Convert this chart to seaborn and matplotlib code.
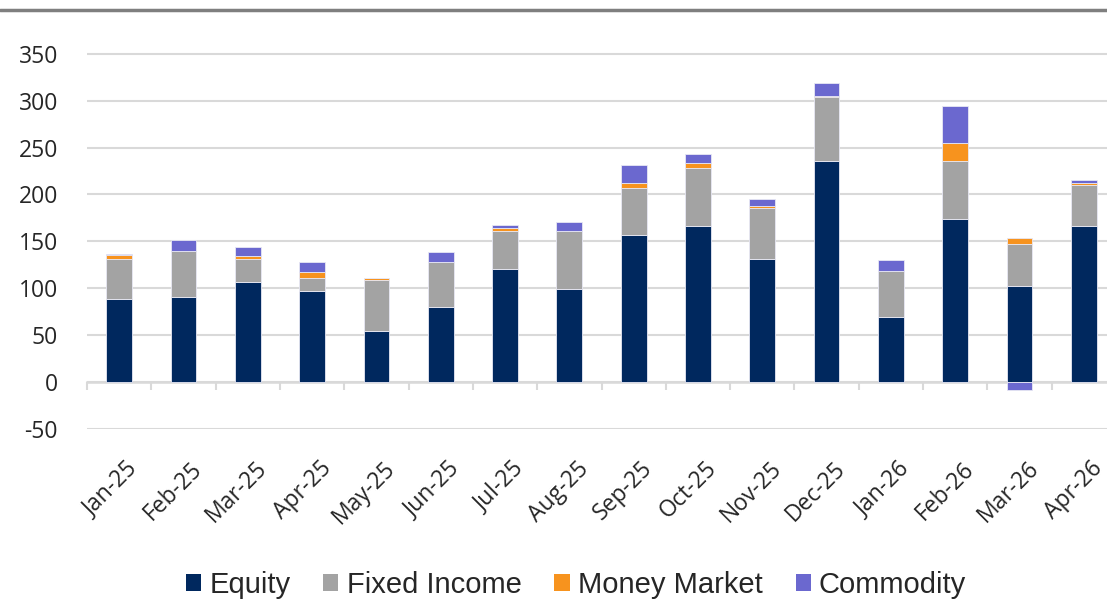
import numpy as np
import pandas as pd
import matplotlib
matplotlib.use("Agg")
import matplotlib.pyplot as plt
import matplotlib.transforms as mtransforms
from matplotlib.patches import Patch
from matplotlib.lines import Line2D
import seaborn as sns

# Monthly flows by asset class
months = ['Jan-25', 'Feb-25', 'Mar-25', 'Apr-25', 'May-25', 'Jun-25', 'Jul-25', 'Aug-25',
          'Sep-25', 'Oct-25', 'Nov-25', 'Dec-25', 'Jan-26', 'Feb-26', 'Mar-26', 'Apr-26']
equity = [88, 90, 106, 97, 54, 80, 120, 99, 157, 166, 131, 236, 69, 174, 102, 166]
fixed_income = [43, 50, 25, 14, 55, 48, 41, 62, 50, 62, 54, 68, 49, 62, 45, 44]
money_market = [4, 0, 3.5, 6.5, 1.5, 0, 3.5, 0, 5, 5, 3, 1.5, 0, 19, 6.5, 2]
commodity = [1.5, 11, 9, 10.5, 0, 10, 3, 9, 19, 10, 7, 13.5, 12, 39.5, -9, 3.5]

series = [('Equity', equity, '#00285E'),
          ('Fixed Income', fixed_income, '#A3A3A3'),
          ('Money Market', money_market, '#F7931E'),
          ('Commodity', commodity, '#6B68CF')]

y_ticks = [-50, 0, 50, 100, 150, 200, 250, 300, 350]

sns.set_theme(style='white')
plt.rcParams['font.family'] = ['Open Sans', 'DejaVu Sans']

fig = plt.figure(figsize=(11.07, 6), dpi=100)
ax = fig.add_axes([87 / 1107, 0.2858, (1116 - 87) / 1107, 0.7025])

# stack positives upward and negatives downward, like Excel does
pos = np.zeros(len(months))
neg = np.zeros(len(months))
for name, vals, color in series:
    vals = np.array(vals, dtype=float)
    bottom = np.where(vals >= 0, pos, neg)
    sns.barplot(x=months, y=vals, bottom=bottom, color=color, width=0.4,
                errorbar=None, edgecolor='#E8E8F4', linewidth=0.6, ax=ax,
                saturation=1, order=months)
    pos = pos + np.where(vals >= 0, vals, 0)
    neg = neg + np.where(vals < 0, vals, 0)

ax.set_ylim(-50, 400)
ax.set_xlim(-0.5, len(months) - 0.5)
ax.set_yticks(y_ticks)
ax.set_yticklabels([str(t) for t in y_ticks], fontsize=16.5, color='#262626')
ax.yaxis.grid(True, color='#D9D9D9', linewidth=1.5)
ax.xaxis.grid(False)
ax.set_axisbelow(True)
for s in ax.spines.values():
    s.set_visible(False)
ax.tick_params(axis='y', length=0, pad=21)
ax.tick_params(axis='x', length=0, pad=24)
ax.set_xticks(range(len(months)))
ax.set_xticklabels(months, rotation=45, ha='right', rotation_mode='anchor',
                   fontsize=16.5, color='#262626')
shift = mtransforms.ScaledTranslation(7 / 100, 5 / 100, fig.dpi_scale_trans)
for lbl in ax.get_xticklabels():
    lbl.set_transform(lbl.get_transform() + shift)
ax.set_xlabel('')
ax.set_ylabel('')

# zero line with category separators
sec = ax.secondary_xaxis(50 / 450)
sec.set_xticks(np.arange(-0.5, len(months), 1.0))
sec.set_xticklabels([])
sec.tick_params(length=6, width=1.5, color='#D9D9D9', direction='out')
sec.spines['bottom'].set_color('#D9D9D9')
sec.spines['bottom'].set_linewidth(1.8)
for k in ['top', 'left', 'right']:
    sec.spines[k].set_visible(False)

# thin rule along the top of the chart
fig.add_artist(Line2D([0, 1], [590 / 600, 590 / 600], color='#7F7F7F', linewidth=2.5))

handles = [Patch(facecolor=c, edgecolor='none', label=n) for n, _, c in series]
fig.legend(handles=handles, loc='center', bbox_to_anchor=(576 / 1107, 15 / 600), ncol=4,
           frameon=False, handlelength=0.52, handleheight=0.55, handletextpad=0.28,
           columnspacing=1.13, prop={'family': 'Liberation Sans', 'size': 21})

fig.savefig('out.png', dpi=100)
